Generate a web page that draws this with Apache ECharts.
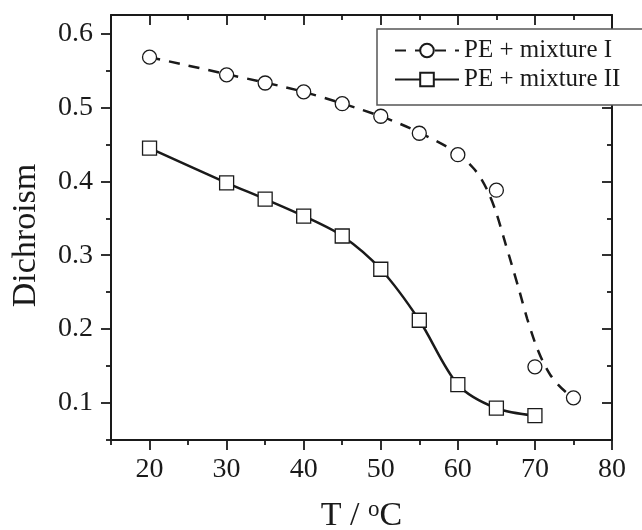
<!DOCTYPE html>
<html>
<head>
<meta charset="utf-8">
<script src="https://cdn.jsdelivr.net/npm/echarts@6/dist/echarts.min.js"></script>
<style>
  html, body { margin: 0; padding: 0; background: #fff; }
  #chart { width: 642px; height: 530px; }
</style>
</head>
<body>
<div id="chart"></div>
<script>
var tempI = [20, 30, 35, 40, 45, 50, 55, 60, 65, 70, 75]
var dichroismI = [0.568, 0.544, 0.533, 0.521, 0.505, 0.488, 0.465, 0.436, 0.388, 0.149, 0.107]
var tempII = [20, 30, 35, 40, 45, 50, 55, 60, 65, 70]
var dichroismII = [0.445, 0.398, 0.376, 0.353, 0.326, 0.281, 0.212, 0.125, 0.093, 0.083]

// dashed fit curve for mixture I
var fitTempI = [20, 30, 40, 50, 55, 60, 62, 63, 64, 65, 66, 67, 68, 69, 70, 71, 72, 73, 74, 75]
var fitDichroismI = [0.568, 0.545, 0.521, 0.488, 0.466, 0.438, 0.418, 0.404, 0.384, 0.357, 0.322, 0.287, 0.251, 0.214, 0.182, 0.157, 0.138, 0.125, 0.115, 0.107]

var xMajor = [20, 30, 40, 50, 60, 70, 80]
var xMinor = [15, 25, 35, 45, 55, 65, 75]
var yMajor = [0.1, 0.2, 0.3, 0.4, 0.5, 0.6]
var yMinor = [0.05, 0.15, 0.25, 0.35, 0.45, 0.55]

var nameI = 'PE + mixture I'
var nameII = 'PE + mixture II'

function pairs(xs, ys) {
  return xs.map(function(x, i) { return [x, ys[i]] })
}

var serif = 'Liberation Serif, Times New Roman, serif'
var ink = '#1a1a1a'
var X_MIN = 15, X_MAX = 80, Y_MIN = 0.05, Y_MAX = 0.625

function xAxisDef(pos, ticks, len, showLine, labels) {
  return {
    type: 'value', position: pos, min: X_MIN, max: X_MAX,
    splitLine: { show: false },
    axisLine: { show: showLine, onZero: false, lineStyle: { color: ink, width: 2 } },
    axisTick: { show: true, customValues: ticks, length: len, inside: pos === 'top', lineStyle: { color: ink, width: 1.8 } },
    axisLabel: labels ? {
      show: true, customValues: xMajor, margin: 16,
      fontFamily: serif, fontSize: 28, color: ink
    } : { show: false }
  }
}

function yAxisDef(pos, ticks, len, showLine, labels) {
  return {
    type: 'value', position: pos, min: Y_MIN, max: Y_MAX,
    splitLine: { show: false },
    axisLine: { show: showLine, onZero: false, lineStyle: { color: ink, width: 2 } },
    axisTick: { show: true, customValues: ticks, length: len, inside: pos === 'right', lineStyle: { color: ink, width: 1.8 } },
    axisLabel: labels ? {
      show: true, customValues: yMajor, margin: 18,
      fontFamily: serif, fontSize: 28, color: ink,
      formatter: function(v) { return v.toFixed(1) }
    } : { show: false }
  }
}

var chart = echarts.init(document.getElementById('chart'))

var xAxes = [
  xAxisDef('bottom', xMajor, 10, true, true),
  xAxisDef('bottom', xMinor, 5, false, false),
  xAxisDef('top', xMajor, 10, true, false),
  xAxisDef('top', xMinor, 5, false, false)
]
xAxes[0].name = 'T / {sup|o}C'
xAxes[0].nameLocation = 'middle'
xAxes[0].nameGap = 58
xAxes[0].nameTextStyle = {
  fontFamily: serif, fontSize: 34, color: ink,
  rich: { sup: { fontFamily: serif, fontSize: 23, color: ink, verticalAlign: 'top', padding: [0, 0, 14, 0] } }
}

var yAxes = [
  yAxisDef('left', yMajor, 10, true, true),
  yAxisDef('left', yMinor, 5, false, false),
  yAxisDef('right', yMajor, 10, true, false),
  yAxisDef('right', yMinor, 5, false, false)
]
yAxes[0].name = 'Dichroism'
yAxes[0].nameLocation = 'middle'
yAxes[0].nameGap = 68
yAxes[0].nameTextStyle = { fontFamily: serif, fontSize: 34, color: ink, padding: [0, 16, 0, 0] }

chart.setOption({
  animation: false,
  backgroundColor: '#fff',
  grid: { left: 111, right: 30, top: 15, bottom: 90, outerBoundsMode: 'none' },
  legend: {
    data: [nameI, nameII],
    orient: 'vertical',
    left: 377,
    top: 29,
    padding: [8, 60, 12, 17],
    itemWidth: 64,
    itemHeight: 17,
    itemGap: 2,
    backgroundColor: '#fff',
    borderColor: '#555',
    borderWidth: 1.5,
    borderRadius: 0,
    textStyle: { fontFamily: serif, fontSize: 25, color: ink, lineHeight: 27 }
  },
  xAxis: xAxes,
  yAxis: yAxes,
  series: [
    {
      name: nameI,
      type: 'line',
      data: pairs(fitTempI, fitDichroismI),
      smooth: 0.3,
      symbol: 'circle',
      showSymbol: false,
      lineStyle: { color: ink, width: 2.5, type: [11, 9] },
      itemStyle: { color: '#fff', borderColor: ink, borderWidth: 1.3 },
      z: 2
    },
    {
      name: 'mixture I points',
      type: 'scatter',
      data: pairs(tempI, dichroismI),
      symbol: 'circle',
      symbolSize: 14,
      itemStyle: { color: '#fff', borderColor: ink, borderWidth: 1.3, opacity: 1 },
      z: 3
    },
    {
      name: nameII,
      type: 'line',
      data: pairs(tempII, dichroismII),
      smooth: 0.3,
      symbol: 'rect',
      symbolSize: 14,
      showSymbol: true,
      lineStyle: { color: ink, width: 2.5 },
      itemStyle: { color: '#fff', borderColor: ink, borderWidth: 1.3 },
      z: 3
    }
  ]
})
</script>
</body>
</html>
